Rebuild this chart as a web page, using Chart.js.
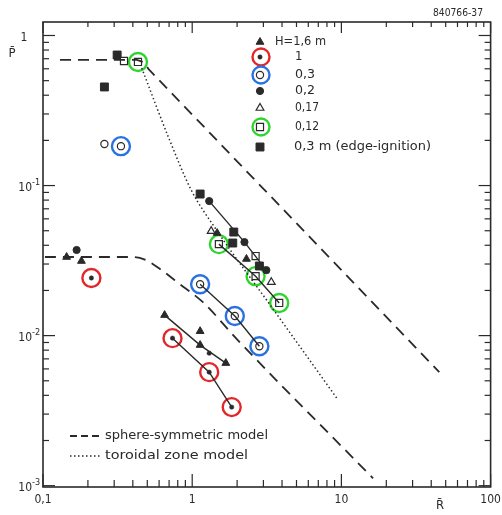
<!DOCTYPE html>
<html><head><meta charset="utf-8">
<script src="https://cdn.jsdelivr.net/npm/chart.js@4"></script>
<style>html,body{margin:0;padding:0;background:#fff}canvas{display:block}</style>
</head><body>
<canvas id="c" width="502" height="515"></canvas>
<script>
// ---- data: [R̄, P̄] ----
const seriesH16  = [[0.144,0.0334],[0.181,0.0314],[0.653,0.0137],[1.13,0.0107],[1.13,0.00865],[1.68,0.00656],[1.47,0.0482],[2.31,0.0324]];
const seriesH1   = [[0.211,0.0242],[0.738,0.00962],[1.30,0.00571],[1.84,0.00334],[1.30,0.00764]];
const seriesH03  = [[0.258,0.189],[0.333,0.183],[1.13,0.022],[1.93,0.0135],[2.82,0.0085]];
const seriesH02  = [[0.168,0.0372],[1.30,0.0788],[2.24,0.042],[3.14,0.0273]];
const seriesH017 = [[1.34,0.0497],[3.39,0.0227]];
const seriesH012 = [[0.349,0.676],[0.433,0.666],[1.51,0.0407],[2.66,0.0339],[2.66,0.0249],[3.83,0.0165]];
const seriesEdge = [[0.314,0.741],[0.258,0.454],[1.13,0.0878],[1.90,0.049],[1.87,0.0414],[2.82,0.0291]];
// highlighted (ringed) points, indices into series
const ringRedIdx   = [0,1,2,3];
const ringBlueIdx  = [1,2,3,4];
const ringGreenIdx = [1,2,4,5];
// fitted solid lines, indices into series
const fitH16Idx = [2,4,5];
const fitH1Idx  = [1,2,3];
const fitH03Idx = [2,3,4];
const fitH02Idx = [1,2,3];
const fitH012Idx= [2,4,5];
// model curves
const sphereUpper = [[0.130,0.687],[0.426,0.687],[0.47,0.665],[0.512,0.595],[45.3,0.00571]];
const sphereLower = [[0.103,0.0334],[0.407,0.0334],[0.489,0.0319],[0.596,0.0282],[0.808,0.0224],[1.18,0.0167],[2.02,0.00933],[16.3,0.00112]];
const toroidal    = [[0.459,0.607],[0.693,0.210],[0.985,0.0933],[1.44,0.0513],[3.44,0.0153],[9.42,0.00377]];
// axes
const xTickValues = [0.1,1,10,100];
const xTickLabels = ['0,1','1','10','100'];
const yTickValues = [1,0.1,0.01,0.001];
const yTickBase   = ['1','10','10','10'];
const yTickExp    = ['','-1','-2','-3'];
const legendLabels = ['H=1,6 m','1','0,3','0,2','0,17','0,12','0,3 m (edge-ignition)'];
const modelLabels = ['sphere-symmetric model','toroidal zone model'];

const ink = '#2a2a2a';
const RED='#e3262a', BLUE='#2a72e0', GREEN='#2fd42f';
const FONT = '"DejaVu Sans Condensed","Liberation Sans Narrow","DejaVu Sans",sans-serif';
const pts = a => a.map(([x,y])=>({x,y}));
const pick = (a,idx) => idx.map(i=>({x:a[i][0],y:a[i][1]}));

const styles = {
  H16:{pointStyle:'triangle',pointRadius:4.5,pointBackgroundColor:ink,pointBorderColor:ink,pointBorderWidth:1},
  H1:{pointStyle:'circle',pointRadius:2.2,pointBackgroundColor:ink,pointBorderColor:ink,pointBorderWidth:0.5},
  H03:{pointStyle:'circle',pointRadius:3.6,pointBackgroundColor:'#fff',pointBorderColor:ink,pointBorderWidth:1.2},
  H02:{pointStyle:'circle',pointRadius:3.6,pointBackgroundColor:ink,pointBorderColor:ink,pointBorderWidth:1},
  H017:{pointStyle:'triangle',pointRadius:4.5,pointBackgroundColor:'#fff',pointBorderColor:ink,pointBorderWidth:1.2},
  H012:{pointStyle:'rect',pointRadius:5,pointBackgroundColor:'#fff',pointBorderColor:ink,pointBorderWidth:1.2},
  Edge:{pointStyle:'rect',pointRadius:5.6,pointBackgroundColor:ink,pointBorderColor:ink,pointBorderWidth:1},
};
const ring = c => ({pointStyle:'circle',pointRadius:9,pointBackgroundColor:'rgba(0,0,0,0)',pointBorderColor:c,pointBorderWidth:2.4});
const lineDs = (data,extra) => Object.assign({data,showLine:true,pointRadius:0,borderColor:ink,borderWidth:1.4,fill:false},extra||{});
const markDs = (data,st) => Object.assign({data,showLine:false},st);

function fitText(ctx,str,x,y,w,size,align){
  ctx.font = size+'px '+FONT;
  const m = ctx.measureText(str).width;
  const sx = w? w/m : 1;
  ctx.save(); ctx.translate(x,y); ctx.scale(sx,1);
  ctx.textAlign = align||'left'; ctx.fillText(str,0,0); ctx.restore();
}

const decor = {
  id:'decor',
  afterDraw(chart){
    const {ctx, chartArea:a, scales:{x,y}} = chart;
    ctx.save();
    ctx.strokeStyle = ink; ctx.fillStyle = ink;
    ctx.lineWidth = 1.6;
    ctx.strokeRect(a.left,a.top,a.right-a.left,a.bottom-a.top);
    ctx.lineWidth = 1.2;
    const seg=(x1,y1,x2,y2)=>{ctx.beginPath();ctx.moveTo(x1,y1);ctx.lineTo(x2,y2);ctx.stroke();};
    // x ticks (log minors)
    for (let d=0; d<xTickValues.length; d++){
      const base = xTickValues[d];
      for (let m=1; m<=(d===xTickValues.length-1?1:9); m++){
        const px = x.getPixelForValue(base*m);
        const major = m===1;
        seg(px,a.bottom,px,a.bottom-(major?13:7));
        seg(px,a.top,px,a.top+(major?11:5));
      }
    }
    // y ticks
    for (let d=yTickValues.length-1; d>=0; d--){
      const base = yTickValues[d];
      for (let m=1; m<=(d===0?1:9); m++){
        const py = y.getPixelForValue(base*m);
        const major = m===1;
        seg(a.left,py,a.left+(major?12:6),py);
        seg(a.right,py,a.right-(major?12:6),py);
      }
    }
    // x labels
    ctx.textBaseline='middle';
    ctx.font = '12px '+FONT;
    xTickValues.forEach((v,i)=>{
      ctx.textAlign='center';
      ctx.fillText(xTickLabels[i], x.getPixelForValue(v), 500);
    });
    // y labels
    yTickValues.forEach((v,i)=>{
      const py = y.getPixelForValue(v)+2;
      if (!yTickExp[i]) { ctx.font='12px '+FONT; ctx.textAlign='center'; ctx.fillText(yTickBase[i],24,py); return; }
      ctx.font='12px '+FONT; ctx.textAlign='right'; ctx.fillText(yTickBase[i],32,py);
      ctx.font='9px '+FONT; ctx.textAlign='left'; ctx.fillText(yTickExp[i],32,py-5);
    });
    // axis titles
    ctx.font='13px '+FONT; ctx.textAlign='center';
    ctx.fillText('P\u0304',12,54);
    ctx.fillText('R\u0304',440,506);
    ctx.font='10px '+FONT;
    fitText(ctx,'840766-37',433,13,50,10);
    // legend (top right)
    const lx=260, ly=[42,57,75,91,108,127,147];
    const lstyles=[styles.H16,styles.H1,styles.H03,styles.H02,styles.H017,styles.H012,styles.Edge];
    const rings=[null,RED,BLUE,null,null,GREEN,null];
    lstyles.forEach((s,i)=>{
      const o={pointStyle:s.pointStyle,radius:s.pointRadius,borderWidth:s.pointBorderWidth,rotation:0};
      ctx.fillStyle=s.pointBackgroundColor; ctx.strokeStyle=s.pointBorderColor; ctx.lineWidth=s.pointBorderWidth;
      Chart.helpers.drawPoint(ctx,o,lx,ly[i]);
      if (rings[i]) { ctx.beginPath(); ctx.strokeStyle=rings[i]; ctx.lineWidth=2.4; ctx.arc(lx+1,ly[i],8.5,0,Math.PI*2); ctx.stroke(); }
    });
    ctx.fillStyle=ink;
    fitText(ctx,legendLabels[0],275,ly[0],51,13);
    fitText(ctx,legendLabels[1],295,ly[1],0,13);
    fitText(ctx,legendLabels[2],295,ly[2],20,13);
    fitText(ctx,legendLabels[3],295,ly[3],20,13);
    fitText(ctx,legendLabels[4],295,ly[4],24,13);
    fitText(ctx,legendLabels[5],295,ly[5],24,13);
    fitText(ctx,legendLabels[6],294,ly[6],137,13);
    // model legend
    ctx.strokeStyle=ink; ctx.lineWidth=1.8; ctx.setLineDash([7,4]);
    seg(70,436,102,436);
    ctx.lineWidth=1.5; ctx.setLineDash([1.5,2.5]);
    seg(70,456,101,456);
    ctx.setLineDash([]);
    fitText(ctx,modelLabels[0],105,436,163,13);
    fitText(ctx,modelLabels[1],105,456,143,13);
    ctx.restore();
  }
};

new Chart(document.getElementById('c'),{
  type:'scatter',
  data:{datasets:[
    lineDs(pts(sphereUpper),{borderWidth:1.8,borderDash:[11,7]}),
    lineDs(pts(sphereLower),{borderWidth:1.8,borderDash:[11,7],cubicInterpolationMode:'monotone'}),
    lineDs(pts(toroidal),{borderWidth:1.5,borderDash:[1.5,2.5],cubicInterpolationMode:'monotone'}),
    lineDs(pick(seriesH16,fitH16Idx)),
    lineDs(pick(seriesH1,fitH1Idx)),
    lineDs(pick(seriesH03,fitH03Idx)),
    lineDs(pick(seriesH02,fitH02Idx)),
    lineDs(pick(seriesH012,fitH012Idx)),
    markDs(pts(seriesH16),styles.H16),
    markDs(pts(seriesH1),styles.H1),
    markDs(pts(seriesH03),styles.H03),
    markDs(pts(seriesH02),styles.H02),
    markDs(pts(seriesH017),styles.H017),
    markDs(pts(seriesH012),styles.H012),
    markDs(pts(seriesEdge),styles.Edge),
    markDs(pick(seriesH1,ringRedIdx),ring(RED)),
    markDs(pick(seriesH03,ringBlueIdx),ring(BLUE)),
    markDs(pick(seriesH012,ringGreenIdx),ring(GREEN)),
  ]},
  options:{
    responsive:false, animation:false, devicePixelRatio:1, events:[],
    layout:{padding:{left:43,top:22,right:5,bottom:28}},
    plugins:{legend:{display:false},tooltip:{enabled:false}},
    scales:{
      x:{type:'logarithmic',min:0.1,max:100,display:false},
      y:{type:'logarithmic',min:0.00098,max:1.23,display:false}
    }
  },
  plugins:[decor]
});
</script>
</body></html>
